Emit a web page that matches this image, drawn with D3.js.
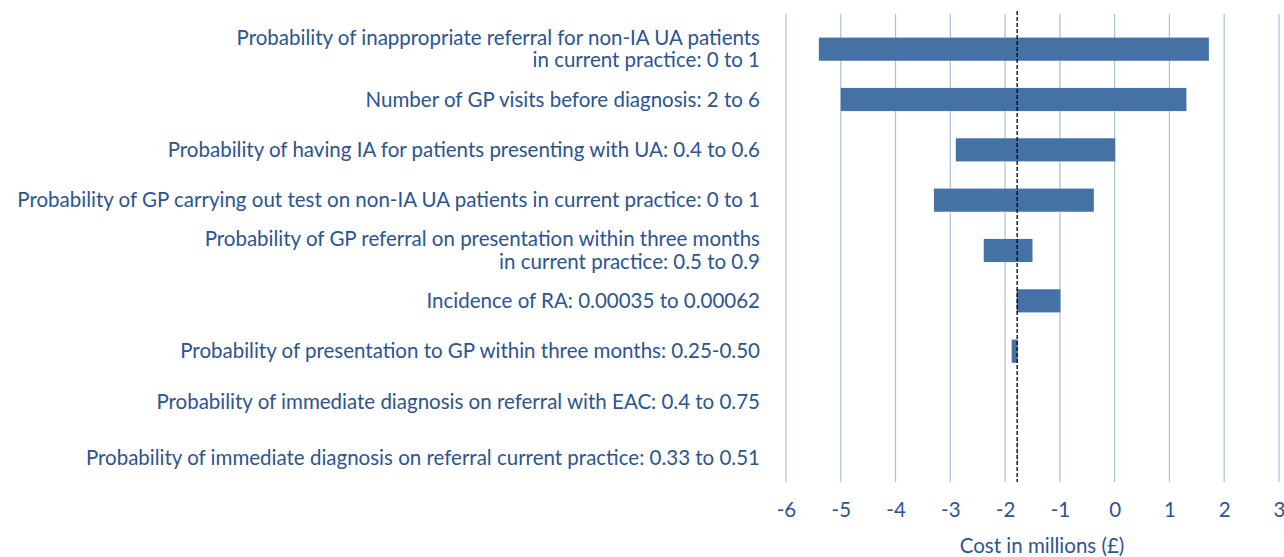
<!DOCTYPE html>
<html>
<head>
<meta charset="utf-8">
<script src="https://cdn.jsdelivr.net/npm/d3@7"></script>
<style>
  body { margin: 0; background: #fff; }
  text { font-family: "Lato", "Open Sans", sans-serif; fill: #2b5591; }
</style>
</head>
<body>
<div id="chart"></div>
<script>
var svgWidth = 1284;
var svgHeight = 557;

// labels (lines), low / high end of each bar, base case
var labels = [
  ["Probability of inappropriate referral for non-IA UA patients", "in current practice: 0 to 1"],
  ["Number of GP visits before diagnosis: 2 to 6"],
  ["Probability of having IA for patients presenting with UA: 0.4 to 0.6"],
  ["Probability of GP carrying out test on non-IA UA patients in current practice: 0 to 1"],
  ["Probability of GP referral on presentation within three months", "in current practice: 0.5 to 0.9"],
  ["Incidence of RA: 0.00035 to 0.00062"],
  ["Probability of presentation to GP within three months: 0.25-0.50"],
  ["Probability of immediate diagnosis on referral with EAC: 0.4 to 0.75"],
  ["Probability of immediate diagnosis on referral current practice: 0.33 to 0.51"]
];
var lowValues  = [-5.40, -5.00, -2.90, -3.30, -2.39, -1.79, -1.88, -1.785, -1.785];
var highValues = [ 1.72,  1.31,  0.01, -0.38, -1.50, -0.99, -1.77, -1.775, -1.775];
var baseCase = -1.78;
var xTicks = [-6, -5, -4, -3, -2, -1, 0, 1, 2, 3];

var margin = { top: 14, right: 5, bottom: 75, left: 786 };
var width = svgWidth - margin.left - margin.right;
var height = svgHeight - margin.top - margin.bottom;

var svg = d3.select("#chart")
  .append("svg")
  .attr("width", svgWidth)
  .attr("height", svgHeight);

var chartGroup = svg.append("g")
  .attr("transform", `translate(${margin.left}, ${margin.top})`);

var x = d3.scaleLinear().domain([-6, 3]).range([0, 493]);
var y = d3.scaleBand()
  .domain(d3.range(labels.length))
  .range([10, 463])
  .paddingInner(0.54)
  .paddingOuter(0.27);

// gridlines
chartGroup.selectAll(".grid")
  .data(xTicks)
  .enter()
  .append("line")
  .attr("x1", d => x(d))
  .attr("x2", d => x(d))
  .attr("y1", 0)
  .attr("y2", height)
  .attr("stroke", "#a9c1dd")
  .attr("stroke-width", 1.2);

// bars
chartGroup.selectAll(".bar")
  .data(labels)
  .enter()
  .append("rect")
  .attr("x", (d, i) => x(Math.min(lowValues[i], highValues[i])))
  .attr("width", (d, i) => Math.abs(x(highValues[i]) - x(lowValues[i])))
  .attr("y", (d, i) => y(i))
  .attr("height", y.bandwidth())
  .attr("fill", "#4572a5");

// base case dashed line
chartGroup.append("line")
  .attr("x1", x(baseCase))
  .attr("x2", x(baseCase))
  .attr("y1", -3)
  .attr("y2", height)
  .attr("stroke", "#000")
  .attr("stroke-width", 1.3)
  .attr("stroke-dasharray", "4,2");

// category labels (last one sits a little lower in the original)
var labelGroup = chartGroup.selectAll(".label")
  .data(labels)
  .enter()
  .append("text")
  .attr("text-anchor", "end")
  .attr("font-size", "20.5px")
  .attr("x", -26)
  .attr("y", (d, i) => y(i) + y.bandwidth() / 2 + (d.length > 1 ? -4.5 : 7) + (i == labels.length - 1 ? 6 : 0));

labelGroup.selectAll("tspan")
  .data(d => d)
  .enter()
  .append("tspan")
  .attr("x", -26)
  .attr("dy", (d, i) => i == 0 ? 0 : 22.5)
  .text(d => d);

// axis tick labels
var xAxis = d3.axisBottom(x).tickValues(xTicks).tickSize(0).tickPadding(0)
  .tickFormat(d => String(d));
var axisG = chartGroup.append("g")
  .attr("transform", `translate(0, ${height + 20})`)
  .call(xAxis);
axisG.select(".domain").remove();
axisG.selectAll("text")
  .attr("font-size", "20.5px")
  .attr("font-family", "Lato, sans-serif")
  .attr("fill", "#2b5591");

chartGroup.append("text")
  .attr("text-anchor", "middle")
  .attr("x", 256)
  .attr("y", height + 71)
  .attr("font-size", "20.5px")
  .text("Cost in millions (£)");
</script>
</body>
</html>
